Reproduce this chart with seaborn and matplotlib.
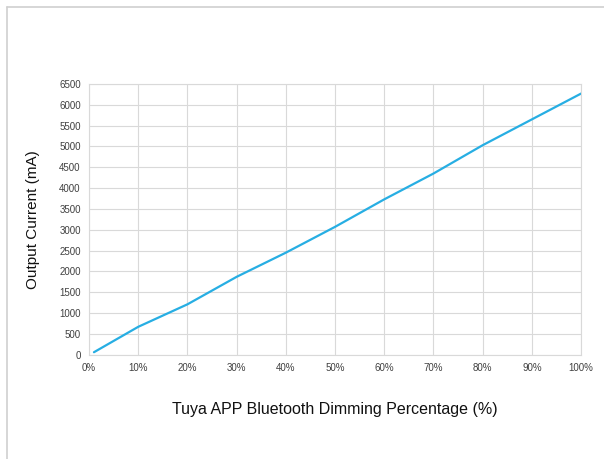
import matplotlib
matplotlib.use("Agg")
import matplotlib.pyplot as plt
import seaborn as sns
import pandas as pd
from matplotlib.lines import Line2D

# Dimming level (%) and measured output current (mA)
dimming = [1, 10, 20, 30, 40, 50, 60, 70, 80, 90, 100]
current = [60, 670, 1210, 1870, 2450, 3070, 3730, 4350, 5030, 5650, 6270]

x_ticks = list(range(0, 101, 10))
x_labels = [f"{t}%" for t in x_ticks]
y_ticks = list(range(0, 6501, 500))

df = pd.DataFrame({"Dimming": dimming, "Current": current})

sns.set_theme(style="whitegrid")
plt.rcParams['font.family'] = ['Liberation Sans', 'DejaVu Sans']

fig = plt.figure(figsize=(6.04, 4.59), dpi=100)
ax = fig.add_axes([0.1474, 0.2272, 0.8146, 0.5898])

sns.lineplot(data=df, x="Dimming", y="Current", ax=ax, color="#27AEE3", linewidth=1.6)

ax.set_xlim(0, 100)
ax.set_ylim(0, 6500)
ax.set_xticks(x_ticks)
ax.set_xticklabels(x_labels)
ax.set_yticks(y_ticks)
ax.tick_params(axis="both", labelsize=7, colors="#404040", length=0, pad=6)
ax.grid(True, color="#d9d9d9", linewidth=0.8)
for s in ax.spines.values():
    s.set_color("#d9d9d9")
    s.set_linewidth(0.8)

ax.set_xlabel("Tuya APP Bluetooth Dimming Percentage (%)", fontsize=11.5, color="#111111", labelpad=21)
ax.set_ylabel("Output Current (mA)", fontsize=11, color="#111111", labelpad=14)

# outer light border (left and top)
fig.add_artist(Line2D([7 / 604, 7 / 604], [0, 1 - 7 / 459], transform=fig.transFigure, color="#d0d0d0", linewidth=1.2))
fig.add_artist(Line2D([7 / 604, 1], [1 - 7 / 459, 1 - 7 / 459], transform=fig.transFigure, color="#d0d0d0", linewidth=1.2))

fig.savefig("out.png", dpi=100)
